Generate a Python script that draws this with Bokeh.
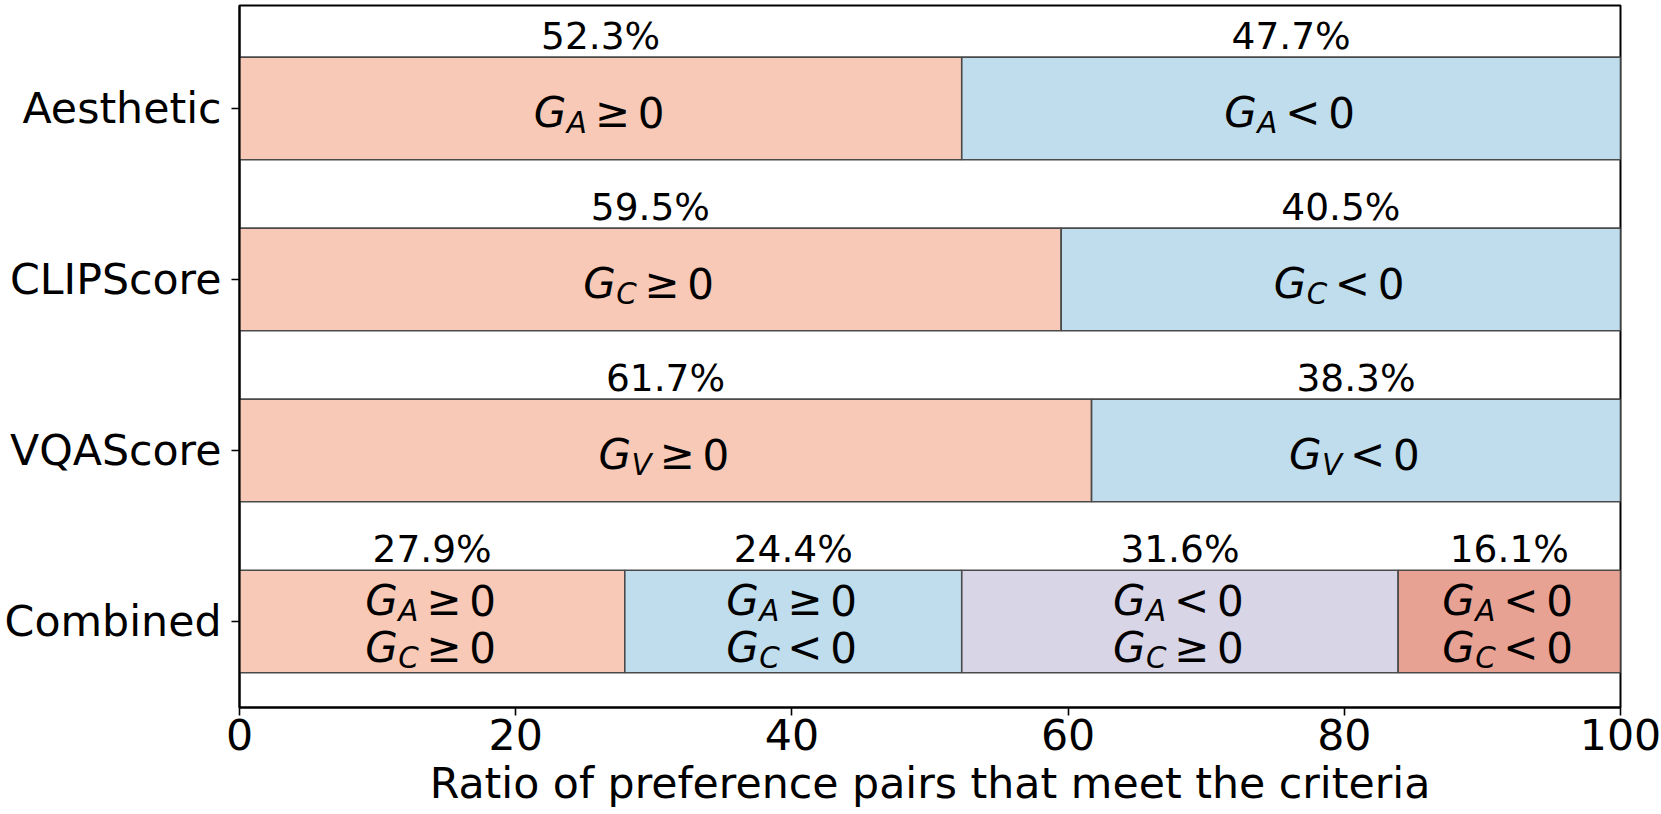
from bokeh.plotting import figure
from bokeh.models import ColumnDataSource, Range1d, FixedTicker
from bokeh.core.properties import value
from bokeh.embed import file_html
from bokeh.resources import INLINE

# ---------------- data ----------------
categories = ["Aesthetic", "CLIPScore", "VQAScore", "Combined"]
category_y = [3, 2, 1, 0]
aesthetic_pct = [52.3, 47.7]
clipscore_pct = [59.5, 40.5]
vqascore_pct = [61.7, 38.3]
combined_pct = [27.9, 24.4, 31.6, 16.1]
single_subscripts = ["A", "C", "V"]
single_relations = ["≥", "<"]
combined_rel_A = ["≥", "≥", "<", "<"]
combined_rel_C = ["≥", "<", "≥", "<"]
x_ticks = [0, 20, 40, 60, 80, 100]
x_label = "Ratio of preference pairs that meet the criteria"

single_colors = ["#F7C9B6", "#BFDDED"]
combined_colors = ["#F7C9B6", "#BFDDED", "#D8D5E7", "#E8A294"]

FONT = "DejaVu Sans"
PCT_PX = 37.5
ANN_PX = 42.0
SUB_PX = 29.4
AXIS_PX = "42.7px"
SHIFT = 0.29  # baseline correction, fraction of font size


def fix(off, px):
    return off - SHIFT * px

# ---------------- segments ----------------
seg = dict(y=[], left=[], right=[], color=[])
pct = dict(x=[], y=[], text=[])
pieces = dict(x=[], y=[], text=[], xo=[], yo=[], kind=[])


def add_pieces(xc, yc, sub, rel, base):
    pieces["x"] += [xc] * 4
    pieces["y"] += [yc] * 4
    pieces["text"] += ["G", sub, rel, "0"]
    pieces["xo"] += [-67, -34, -6, 37]
    pieces["yo"] += [fix(base, ANN_PX), fix(base + 7, SUB_PX),
                     fix(base, ANN_PX), fix(base, ANN_PX)]
    pieces["kind"] += ["G", "S", "R", "R"]


rows = [aesthetic_pct, clipscore_pct, vqascore_pct]
for r, vals in enumerate(rows):
    yc = category_y[r]
    left = 0.0
    for k, v in enumerate(vals):
        seg["y"].append(yc)
        seg["left"].append(left)
        seg["right"].append(left + v)
        seg["color"].append(single_colors[k])
        xc = left + v / 2
        pct["x"].append(xc)
        pct["y"].append(yc + 0.3)
        pct["text"].append(f"{v}%")
        add_pieces(xc, yc, single_subscripts[r], single_relations[k], 16)
        left += v

yc = category_y[3]
left = 0.0
for k, v in enumerate(combined_pct):
    seg["y"].append(yc)
    seg["left"].append(left)
    seg["right"].append(left + v)
    seg["color"].append(combined_colors[k])
    xc = left + v / 2
    pct["x"].append(xc)
    pct["y"].append(yc + 0.3)
    pct["text"].append(f"{v}%")
    add_pieces(xc, yc, "A", combined_rel_A[k], -8.7)
    add_pieces(xc, yc, "C", combined_rel_C[k], 38.3)
    left += v

# ---------------- figure ----------------
p = figure(width=1661, height=814, output_backend="svg", toolbar_location=None,
           x_range=Range1d(0, 100), y_range=Range1d(-0.503, 3.602),
           min_border_left=239, min_border_right=41, min_border_top=5,
           min_border_bottom=107)
p.xgrid.visible = False
p.ygrid.visible = False
p.outline_line_color = "black"
p.outline_line_width = 2
p.background_fill_color = "white"
p.border_fill_color = "white"

p.hbar(y="y", left="left", right="right", height=0.6, fill_color="color",
       line_color="#4a4a4a", line_width=1.6, source=ColumnDataSource(seg))

p.text(x="x", y="y", text="text", source=ColumnDataSource(pct),
       text_font=value(FONT), text_font_size=f"{PCT_PX}px", text_align="center",
       text_baseline="alphabetic", y_offset=fix(-10, PCT_PX), text_color="black")


def subset(kind):
    idx = [i for i, k in enumerate(pieces["kind"]) if k == kind]
    return ColumnDataSource({key: [pieces[key][i] for i in idx] for key in pieces})


p.text(x="x", y="y", text="text", x_offset="xo", y_offset="yo", source=subset("G"),
       text_font=value(FONT), text_font_style="italic", text_font_size=f"{ANN_PX}px",
       text_align="left", text_baseline="alphabetic", text_color="black")
p.text(x="x", y="y", text="text", x_offset="xo", y_offset="yo", source=subset("S"),
       text_font=value(FONT), text_font_style="italic", text_font_size=f"{SUB_PX}px",
       text_align="left", text_baseline="alphabetic", text_color="black")
p.text(x="x", y="y", text="text", x_offset="xo", y_offset="yo", source=subset("R"),
       text_font=value(FONT), text_font_size=f"{ANN_PX}px",
       text_align="left", text_baseline="alphabetic", text_color="black")

# axes
p.xaxis.ticker = FixedTicker(ticks=x_ticks)
p.yaxis.ticker = FixedTicker(ticks=category_y)
p.yaxis.major_label_overrides = {y: c for y, c in zip(category_y, categories)}
for ax in (p.xaxis[0], p.yaxis[0]):
    ax.axis_line_color = "black"
    ax.axis_line_width = 2
    ax.major_tick_line_color = "black"
    ax.major_tick_line_width = 1.6
    ax.major_tick_out = 8
    ax.major_tick_in = 0
    ax.minor_tick_line_color = None
    ax.major_label_text_font = FONT
    ax.major_label_text_font_size = AXIS_PX
    ax.major_label_text_color = "black"
p.xaxis.major_label_standoff = 3
p.yaxis.major_label_standoff = 10
p.xaxis.axis_label = x_label
p.xaxis.axis_label_text_font = FONT
p.xaxis.axis_label_text_font_size = AXIS_PX
p.xaxis.axis_label_text_font_style = "normal"
p.xaxis.axis_label_text_color = "black"
p.xaxis.axis_label_standoff = 5

open("out.html", "w").write(file_html(p, INLINE))
